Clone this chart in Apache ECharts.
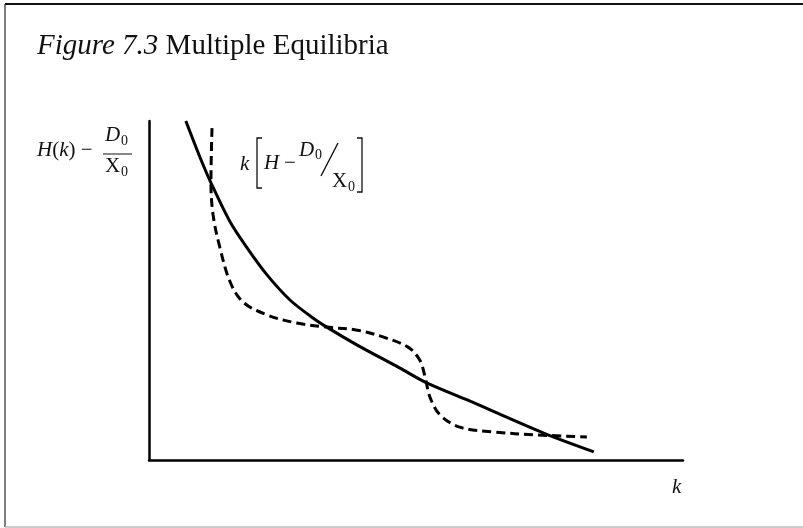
<!DOCTYPE html>
<html><head><meta charset="utf-8">
<script src="https://cdn.jsdelivr.net/npm/echarts@6/dist/echarts.min.js"></script>
<style>html,body{margin:0;padding:0;background:#fff}#c{width:803px;height:528px}</style>
</head><body><div id="c"></div>
<script>
// H(k) - D0/X0 (solid)
const hK = [0.69,0.96,1.18,1.52,1.84,2.21,2.64,3.07,3.33,3.90,4.70,5.17,5.96,7.38,8.33];
const hY = [10.00,8.91,8.11,7.02,6.25,5.46,4.72,4.19,3.92,3.39,2.71,2.30,1.77,0.80,0.24];
// k[H - D0/X0] (dashed)
const kK = [1.18,1.16,1.20,1.33,1.52,1.76,2.21,2.77,3.33,3.90,4.38,4.85,5.07,5.17,5.26,5.45,5.82,6.44,7.27,8.20];
const kY = [9.79,8.20,7.23,6.25,5.25,4.66,4.28,4.04,3.92,3.83,3.63,3.33,2.95,2.45,1.86,1.33,0.97,0.83,0.74,0.68];

const solidData = hK.map((x,i)=>[x,hY[i]]);
const dashData = kK.map((x,i)=>[x,kY[i]]);
const serif = '"Liberation Serif", "DejaVu Serif", serif';
const C = '#111';
function txt(x, y, s, size, italic, align){
  return {type:'text', x:x, y:y, style:{text:s, fontFamily:serif, fontSize:size, fontStyle:italic?'italic':'normal',
    fill:C, textAlign:align||'left', textVerticalAlign:'middle'}};
}

const chart = echarts.init(document.getElementById('c'), null, {renderer:'canvas'});
chart.setOption({
  animation:false,
  backgroundColor:'#fff',
  grid:{left:149, right:120, top:121, bottom:68},
  xAxis:{type:'value', min:0, max:10, axisLine:{show:true, onZero:false, lineStyle:{color:'#000', width:2.5}},
    axisTick:{show:false}, axisLabel:{show:false}, splitLine:{show:false}},
  yAxis:{type:'value', min:0, max:10, axisLine:{show:true, onZero:false, lineStyle:{color:'#000', width:2.5}},
    axisTick:{show:false}, axisLabel:{show:false}, splitLine:{show:false}},
  series:[
    {type:'line', data:solidData, smooth:0.3, showSymbol:false, lineStyle:{color:'#000', width:3}},
    {type:'line', data:dashData, smooth:0.35, showSymbol:false, lineStyle:{color:'#000', width:3, type:[9,5]}}
  ],
  graphic:[
    {type:'line', shape:{x1:5,y1:4,x2:5,y2:527}, style:{stroke:'#555', lineWidth:1.5}},
    {type:'line', shape:{x1:5,y1:4,x2:803,y2:4}, style:{stroke:'#111', lineWidth:2}},
    {type:'line', shape:{x1:5,y1:527,x2:803,y2:527}, style:{stroke:'#bbb', lineWidth:1.5}},
    // title
    {type:'text', x:37, y:46, style:{text:'{i|Figure 7.3} Multiple Equilibria', fill:C, textVerticalAlign:'middle',
      fontFamily:serif, fontSize:29,
      rich:{i:{fontStyle:'italic', fontFamily:serif, fontSize:29, fill:C}}}},
    // y label: H(k) − D0/X0
    {type:'text', x:37, y:150, style:{text:'{i|H}({i|k}) \u2212', fontFamily:serif, fontSize:21, fill:C, textVerticalAlign:'middle',
      rich:{i:{fontStyle:'italic', fontFamily:serif, fontSize:21, fill:C}}}},
    txt(105, 135, 'D', 21, true),
    txt(121, 141, '0', 14, false),
    {type:'line', shape:{x1:103,y1:154,x2:132,y2:154}, style:{stroke:C, lineWidth:1}},
    txt(105, 166, 'X', 21, false),
    txt(121, 172, '0', 14, false),
    // dashed label: k[H − D0/X0]
    txt(240, 164, 'k', 21, true),
    {type:'polyline', shape:{points:[[262,138],[257,138],[257,188],[262,188]]}, style:{stroke:C, lineWidth:1.3, fill:null}},
    txt(264, 163, 'H', 21, true),
    txt(284, 163, '\u2212', 21, false),
    txt(299, 150, 'D', 21, true),
    txt(315, 155, '0', 14, false),
    {type:'line', shape:{x1:321,y1:176,x2:338,y2:143}, style:{stroke:C, lineWidth:1.4}},
    txt(332, 181, 'X', 21, false),
    txt(348, 187, '0', 14, false),
    {type:'polyline', shape:{points:[[357,138],[362,138],[362,192],[357,192]]}, style:{stroke:C, lineWidth:1.3, fill:null}},
    // x label
    txt(672, 487, 'k', 21, true)
  ]
});
</script></body></html>
